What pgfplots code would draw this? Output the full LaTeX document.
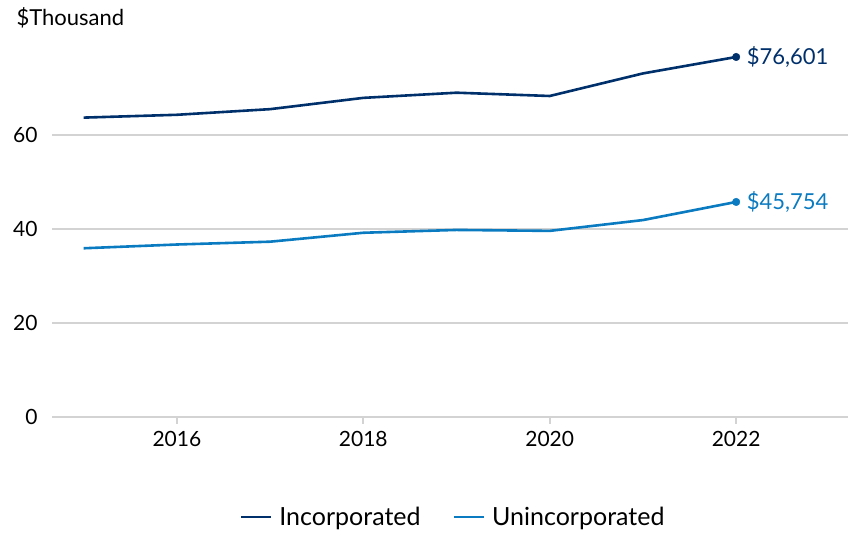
\documentclass[border=0pt]{standalone}
\usepackage{pgfplots}
\pgfplotsset{compat=1.18}
\usepackage{fontspec}
\setmainfont{Lato}
\definecolor{incblue}{HTML}{00306B}
\definecolor{unincblue}{HTML}{0A7BC1}
\definecolor{gridgray}{HTML}{D3D3D3}
\begin{document}
\begin{tikzpicture}
\begin{axis}[
    at={(52pt,117pt)}, anchor=south west,
    scale only axis, width=796pt, height=376pt,
    xmin=2014.66, xmax=2023.2, ymin=0, ymax=80,
    xtick={2016,2018,2020,2022}, ytick={0,20,40,60},
    xtick pos=bottom,
    xticklabel style={/pgf/number format/1000 sep={}, yshift=-4pt},
    yticklabel style={xshift=-4pt},
    /pgf/number format/assume math mode=true,
    ticklabel style={font=\fontsize{21}{25}\selectfont},
    axis line style={draw=none},
    ymajorgrids, grid style={gridgray, line width=2.5pt},
    ytick style={draw=none},
    xtick style={draw=gridgray, line width=2pt},
    major tick length=7pt, tick align=outside,
    clip=false,
    legend columns=2,
    legend style={at={(0.504,-0.266)}, anchor=center, draw=none, fill=none,
        font=\fontsize{25}{29}\selectfont, column sep=5pt,
        /tikz/every even column/.append style={column sep=30pt}},
    legend image code/.code={\draw[#1, line width=2.5pt] (0pt,0pt) -- (30pt,0pt);},
]
\addplot[incblue, line width=2.6pt] coordinates {
(2015,63.7) (2016,64.3) (2017,65.5) (2018,67.9) (2019,69.0) (2020,68.3) (2021,73.1) (2022,76.601)
} node[pos=1, right=6pt, text=incblue, font=\fontsize{22}{26}\selectfont] {\$76,601};
\addlegendentry{Incorporated}
\addplot[unincblue, line width=2.6pt] coordinates {
(2015,35.9) (2016,36.7) (2017,37.3) (2018,39.2) (2019,39.8) (2020,39.6) (2021,41.9) (2022,45.754)
} node[pos=1, right=6pt, text=unincblue, font=\fontsize{22}{26}\selectfont] {\$45,754};
\addlegendentry{Unincorporated}
\addplot[incblue, only marks, mark=*, mark size=3.8pt, forget plot] coordinates {(2022,76.601)};
\addplot[unincblue, only marks, mark=*, mark size=3.8pt, forget plot] coordinates {(2022,45.754)};
\node[anchor=west, font=\fontsize{22}{26}\selectfont] at ([xshift=-39pt, yshift=23pt]rel axis cs:0,1) {\$Thousand};
\end{axis}
\pgfresetboundingbox
\path (0,0) rectangle (848pt,534pt);
\end{tikzpicture}
\end{document}
